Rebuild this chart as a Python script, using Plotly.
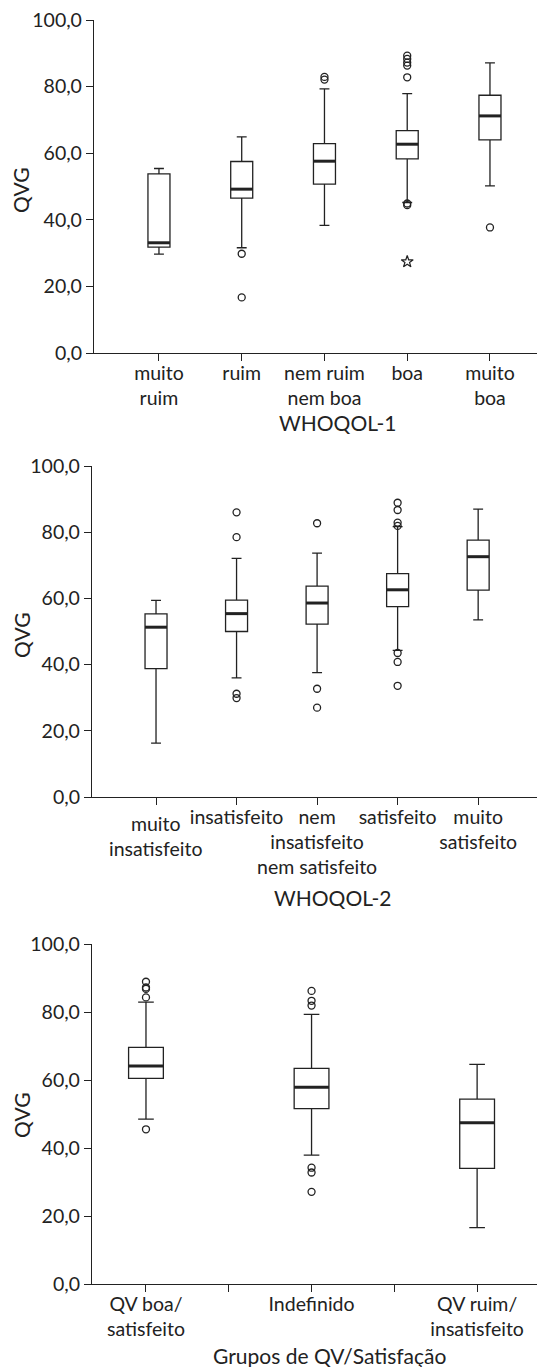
import plotly.graph_objects as go

# ---------------- data ----------------
p1_cats = ["muito<br>ruim", "ruim", "nem ruim<br>nem boa", "boa", "muito<br>boa"]
p1_lowf = [29.7, 31.6, 38.3, 45.2, 50.2]
p1_q1 = [31.8, 46.5, 50.7, 58.3, 64.0]
p1_med = [33.1, 49.2, 57.6, 62.7, 71.2]
p1_q3 = [53.8, 57.5, 62.9, 66.8, 77.4]
p1_upf = [55.4, 64.9, 79.3, 77.9, 87.1]
p1_out = [[], [29.8, 16.7], [82.9, 82.1], [89.3, 88.3, 87.2, 86.3, 82.8, 44.9, 44.4], [37.7]]
p1_ext = [[], [], [], [27.4], []]

p2_cats = ["muito<br>insatisfeito", "insatisfeito", "nem<br>insatisfeito<br>nem satisfeito",
           "satisfeito", "muito<br>satisfeito"]
p2_lowf = [16.3, 36.0, 37.6, 44.3, 53.5]
p2_q1 = [38.8, 50.0, 52.2, 57.5, 62.5]
p2_med = [51.3, 55.4, 58.6, 62.6, 72.6]
p2_q3 = [55.3, 59.5, 63.7, 67.5, 77.6]
p2_upf = [59.4, 72.1, 73.7, 81.7, 87.0]
p2_out = [[], [86.0, 78.5, 31.2, 29.9], [82.7, 32.7, 27.0],
          [88.9, 86.7, 82.9, 81.9, 43.5, 40.8, 33.6], []]
p2_ext = [[], [], [], [], []]

p3_cats = ["QV boa/<br>satisfeito", "Indefinido", "QV ruim/<br>insatisfeito"]
p3_lowf = [48.5, 37.9, 16.6]
p3_q1 = [60.5, 51.6, 34.0]
p3_med = [64.1, 57.9, 47.4]
p3_q3 = [69.6, 63.4, 54.4]
p3_upf = [82.9, 79.3, 64.6]
p3_out = [[88.9, 87.2, 86.8, 84.3, 45.5], [86.2, 83.3, 81.9, 34.2, 32.8, 27.1], []]
p3_ext = [[], [], []]

y_ticks = [0, 20, 40, 60, 80, 100]
x_titles = ["WHOQOL-1", "WHOQOL-2", "Grupos de QV/Satisfação"]
y_title = "QVG"

# ---------------- style ----------------
INK = "#222222"
FONT = "Lato"
OFF = 8                      # page body margin
W, H = 545 - OFF, 1367 - OFF
TICK_SIZE = 19.5
TITLE_SIZE = 21


def px(x):
    return (x - OFF) / W


def py(y):
    return 1 - (y - OFF) / H


panels = [
    dict(cats=p1_cats, lowf=p1_lowf, q1=p1_q1, med=p1_med, q3=p1_q3, upf=p1_upf,
         out=p1_out, ext=p1_ext, bw=0.266, x0=94, y0=353, y1=20,
         xr=[-0.785, 4.665], boundaries=False, xt_y=423, yt_y=190, xt_x=337, lowered=[]),
    dict(cats=p2_cats, lowf=p2_lowf, q1=p2_q1, med=p2_med, q3=p2_q3, upf=p2_upf,
         out=p2_out, ext=p2_ext, bw=0.273, x0=92, y0=797, y1=466,
         xr=[-0.795, 4.83], boundaries=False, xt_y=897, yt_y=635, xt_x=332, lowered=[0]),
    dict(cats=p3_cats, lowf=p3_lowf, q1=p3_q1, med=p3_med, q3=p3_q3, upf=p3_upf,
         out=p3_out, ext=p3_ext, bw=0.21, x0=92, y0=1284, y1=944,
         xr=[-0.326, 2.41], boundaries=True, xt_y=1355, yt_y=1115, xt_x=329, lowered=[]),
]

fig = go.Figure()
annotations = []

for k, p in enumerate(panels):
    n = len(p["cats"])
    pos = list(range(n))
    xa = "x" if k == 0 else f"x{k + 1}"
    ya = "y" if k == 0 else f"y{k + 1}"

    fig.add_trace(go.Box(
        x=pos, q1=p["q1"], median=p["med"], q3=p["q3"],
        lowerfence=p["lowf"], upperfence=p["upf"],
        width=p["bw"], whiskerwidth=0.45, boxpoints=False,
        fillcolor="white", line=dict(color=INK, width=1.3),
        xaxis=xa, yaxis=ya, showlegend=False, hoverinfo="skip",
    ))

    # thick median lines
    mx, my = [], []
    for i in pos:
        mx += [i - p["bw"] / 2, i + p["bw"] / 2, None]
        my += [p["med"][i], p["med"][i], None]
    fig.add_trace(go.Scatter(x=mx, y=my, mode="lines", line=dict(color=INK, width=3),
                             xaxis=xa, yaxis=ya, showlegend=False, hoverinfo="skip"))

    # outliers
    ox, oy = [], []
    for i in pos:
        for v in p["out"][i]:
            ox.append(i)
            oy.append(v)
    if ox:
        fig.add_trace(go.Scatter(x=ox, y=oy, mode="markers",
                                 marker=dict(symbol="circle-open", size=7, color=INK,
                                             line=dict(width=1.3, color=INK)),
                                 xaxis=xa, yaxis=ya, showlegend=False, hoverinfo="skip"))
    ex, ey = [], []
    for i in pos:
        for v in p["ext"][i]:
            ex.append(i)
            ey.append(v)
    if ex:
        fig.add_trace(go.Scatter(x=ex, y=ey, mode="markers",
                                 marker=dict(symbol="star-open", size=9, color=INK,
                                             line=dict(width=1.2, color=INK)),
                                 xaxis=xa, yaxis=ya, showlegend=False, hoverinfo="skip"))

    tv, tt = [], []
    for i in pos:
        tv.append(i)
        tt.append("" if i in p["lowered"] else p["cats"][i])
        if p["boundaries"] and i < n - 1:
            tv.append(i + 0.5)
            tt.append("")

    # labels sitting slightly lower than the others
    for i in p["lowered"]:
        annotations.append(dict(text=p["cats"][i], x=i, xref=xa, y=py(p["y0"] + 13),
                                yref="paper", showarrow=False, xanchor="center",
                                yanchor="top", font=dict(family=FONT, size=TICK_SIZE, color=INK)))

    xkey = "xaxis" if k == 0 else f"xaxis{k + 1}"
    ykey = "yaxis" if k == 0 else f"yaxis{k + 1}"
    fig.update_layout(**{
        xkey: dict(domain=[px(p["x0"]), 1.0], anchor=ya, range=p["xr"], tickmode="array",
                   tickvals=tv, ticktext=tt, showgrid=False, zeroline=False,
                   showline=True, linecolor=INK, linewidth=1.3, automargin=False,
                   tickangle=0, ticklabeloverflow="allow", ticklabelstandoff=-5,
                   ticks="outside", ticklen=7, tickwidth=1.3, tickcolor=INK,
                   tickfont=dict(family=FONT, size=TICK_SIZE, color=INK)),
        ykey: dict(domain=[py(p["y0"]), py(p["y1"])], anchor=xa, range=[0, 100],
                   tickmode="array", tickvals=y_ticks, tickformat=".1f",
                   showgrid=False, zeroline=False, ticklabeloverflow="allow",
                   showline=True, linecolor=INK, linewidth=1.3, automargin=False,
                   ticks="outside", ticklen=7, tickwidth=1.3, tickcolor=INK,
                   tickfont=dict(family=FONT, size=TICK_SIZE, color=INK)),
    })

    annotations.append(dict(text=x_titles[k], x=px(p["xt_x"]), y=py(p["xt_y"]),
                            xref="paper", yref="paper", showarrow=False,
                            xanchor="center", yanchor="middle",
                            font=dict(family=FONT, size=TITLE_SIZE, color=INK)))
    annotations.append(dict(text=y_title, x=px(21), y=py(p["yt_y"]),
                            xref="paper", yref="paper", showarrow=False, textangle=-90,
                            xanchor="center", yanchor="middle",
                            font=dict(family=FONT, size=TITLE_SIZE, color=INK)))

fig.update_layout(
    width=W, height=H,
    margin=dict(l=0, r=0, t=0, b=0),
    paper_bgcolor="white", plot_bgcolor="white",
    separators=",.",
    annotations=annotations,
    font=dict(family=FONT, color=INK),
)

fig.write_html("out.html")
